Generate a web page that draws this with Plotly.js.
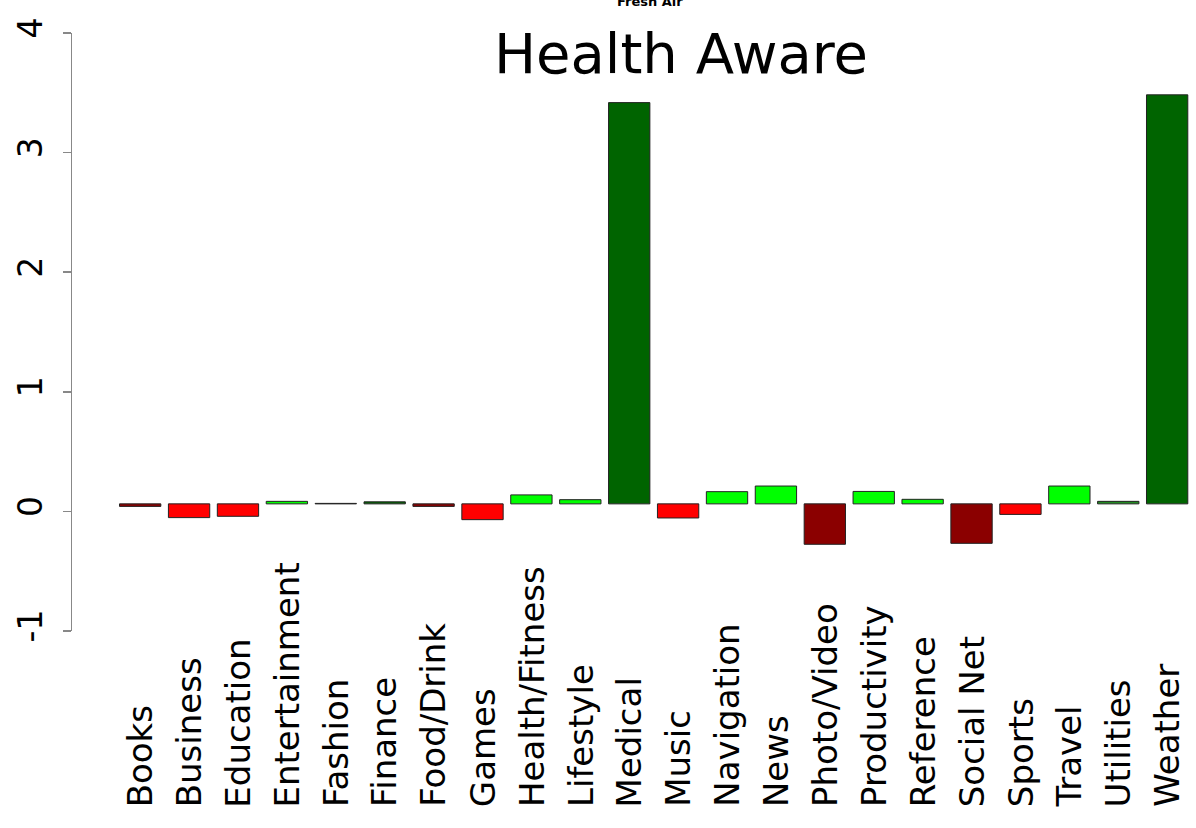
<!DOCTYPE html>
<html>
<head>
<meta charset="utf-8">
<script src="https://cdn.plot.ly/plotly-3.0.1.min.js"></script>
<style>html,body{margin:0;padding:0;background:#fff;}#chart{width:1196px;height:828px;}</style>
</head>
<body>
<div id="chart"></div>
<script>
// Data
const categories = ["Books","Business","Education","Entertainment","Fashion","Finance","Food/Drink","Games","Health/Fitness","Lifestyle","Medical","Music","Navigation","News","Photo/Video","Productivity","Reference","Social Net","Sports","Travel","Utilities","Weather"];
const values = [-0.021,-0.115,-0.104,0.021,0.004,0.017,-0.021,-0.132,0.075,0.035,3.355,-0.118,0.102,0.149,-0.338,0.104,0.038,-0.330,-0.088,0.149,0.021,3.420];
const barColors = ["#8B0000","#FF0000","#FF0000","#00FF00","#222222","#006400","#8B0000","#FF0000","#00FF00","#00FF00","#006400","#FF0000","#00FF00","#00FF00","#8B0000","#00FF00","#00FF00","#8B0000","#FF0000","#00FF00","#228B22","#006400"];
const baseline = 0.063;
const yTicks = [-1,0,1,2,3,4];
const mainTitle = "Health Aware";
const topTitle = "Fresh Air";

const FONT = "DejaVu Sans, Verdana, sans-serif";

const trace = {
  type: "bar",
  x: categories,
  y: values,
  base: categories.map(() => baseline),
  marker: {color: barColors, line: {color: "#222", width: 1}},
  hoverinfo: "none"
};

const labelAnnotations = categories.map(c => ({
  x: c, xref: "x", y: -0.298, yref: "paper",
  text: c, textangle: -90, showarrow: false,
  xanchor: "center", yanchor: "bottom",
  font: {family: FONT, size: 34, color: "#000"}
}));

const layout = {
  width: 1196, height: 828,
  margin: {l: 72, r: 0, t: 33, b: 197},
  paper_bgcolor: "#fff", plot_bgcolor: "#fff",
  showlegend: false,
  bargap: 0.155,
  title: {text: mainTitle, font: {family: FONT, size: 56, color: "#000"}, x: 681/1196, xanchor: "center", y: 1 - 53/828, yanchor: "middle"},
  xaxis: {type: "category", range: [-1.394, 21.59], showticklabels: false, showline: false, showgrid: false, zeroline: false, ticks: ""},
  yaxis: {range: [-1, 4], tickvals: yTicks, ticktext: yTicks.map(String), tickangle: -90,
    showline: true, linecolor: "#888", linewidth: 1.5, ticks: "outside", ticklen: 8, tickcolor: "#888", tickwidth: 1.5,
    showgrid: false, zeroline: false, ticklabelstandoff: 7,
    tickfont: {family: FONT, size: 33, color: "#000"}},
  annotations: labelAnnotations.concat([{
    x: (650-72)/1124, xref: "paper", xanchor: "center", y: 1, yref: "paper", yanchor: "bottom", yshift: 22,
    text: "<b>" + topTitle + "</b>", showarrow: false, font: {family: FONT, size: 13, color: "#000"}
  }])
};

Plotly.newPlot("chart", [trace], layout, {staticPlot: true, displayModeBar: false});
</script>
</body>
</html>
